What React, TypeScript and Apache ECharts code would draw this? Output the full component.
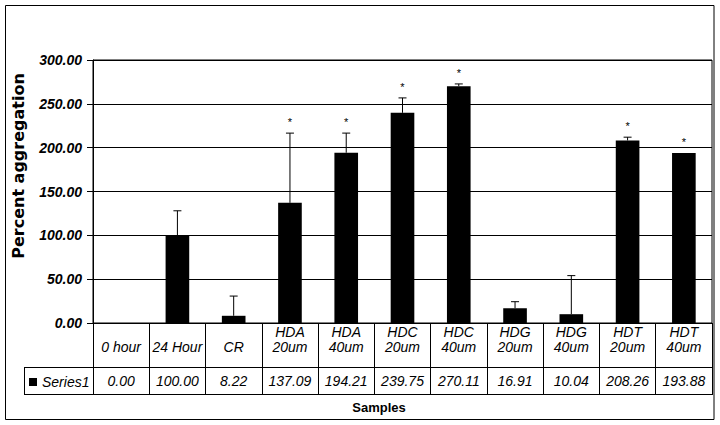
import React, { useEffect, useRef } from "react";
import * as echarts from "echarts";

const categories = [
  "0 hour",
  "24 Hour",
  "CR",
  "HDA\n20um",
  "HDA\n40um",
  "HDC\n20um",
  "HDC\n40um",
  "HDG\n20um",
  "HDG\n40um",
  "HDT\n20um",
  "HDT\n40um",
];
const seriesName = "Series1";
const values = [0.0, 100.0, 8.22, 137.09, 194.21, 239.75, 270.11, 16.91, 10.04, 208.26, 193.88];
const errors = [0, 28, 22.5, 79.5, 22.4, 17, 2.6, 7.4, 44, 3.7, 0];
const significant = [false, false, false, true, true, true, true, false, false, true, true];
const yMin = 0;
const yMax = 300;
const yInterval = 50;
const xTitle = "Samples";
const yTitle = "Percent aggregation";

export default function App() {
  const ref = useRef<HTMLDivElement>(null);

  useEffect(() => {
    const chart = echarts.init(ref.current!, null, { renderer: "svg" });
    const font = "Liberation Sans, Arial, sans-serif";
    const L = 93;
    const R = 712;
    const T = 60;
    const B = 323;
    const row1 = 367;
    const row2 = 394;
    const legendX = 24;

    chart.setOption({
      animation: false,
      backgroundColor: "#ffffff",
      grid: {
        left: L,
        right: 720 - R,
        top: T,
        bottom: 425 - B,
        show: true,
        borderColor: "#000",
        borderWidth: 1,
        backgroundColor: "transparent",
      },
      legend: {
        data: [seriesName],
        left: 29,
        top: 375,
        padding: 0,
        itemWidth: 8,
        itemHeight: 8,
        icon: "rect",
        itemStyle: { color: "#000" },
        textStyle: { fontFamily: font, fontStyle: "italic", fontSize: 14, color: "#000" },
      },
      xAxis: [
        {
          type: "category",
          data: categories,
          position: "bottom",
          axisLine: { show: true, lineStyle: { color: "#000", width: 1 } },
          axisTick: { show: true, length: row2 - B, interval: 0, lineStyle: { color: "#000", width: 1 } },
          axisLabel: {
            interval: 0,
            margin: 2,
            fontFamily: font,
            fontStyle: "italic",
            fontSize: 14,
            lineHeight: 14.5,
            color: "#000",
            formatter: (v: string) => (v.includes("\n") ? v : "\n" + v),
          },
          splitLine: { show: false },
        },
        {
          type: "category",
          data: values.map((v) => v.toFixed(2)),
          position: "bottom",
          axisLine: { show: false },
          axisTick: { show: false },
          axisLabel: {
            interval: 0,
            margin: 51,
            fontFamily: font,
            fontStyle: "italic",
            fontSize: 14,
            lineHeight: 14,
            color: "#000",
          },
          splitLine: { show: false },
        },
      ],
      yAxis: {
        type: "value",
        min: yMin,
        max: yMax,
        interval: yInterval,
        axisLine: { show: true, lineStyle: { color: "#000", width: 1 } },
        axisTick: { show: true, length: 6, lineStyle: { color: "#000", width: 1 } },
        axisLabel: {
          formatter: (v: number) => v.toFixed(2),
          fontFamily: font,
          fontWeight: "bold",
          fontStyle: "italic",
          fontSize: 14,
          color: "#000",
          margin: 11,
        },
        splitLine: { show: true, lineStyle: { color: "#000", width: 1 } },
      },
      series: [
        {
          type: "bar",
          name: seriesName,
          data: values,
          xAxisIndex: 0,
          barWidth: "42%",
          itemStyle: { color: "#000" },
        },
        {
          type: "custom",
          name: "error",
          xAxisIndex: 0,
          z: 5,
          data: values.map((v, i) => [i, v, errors[i], significant[i] ? 1 : 0]),
          encode: { x: 0, y: 1 },
          renderItem: (params: any, api: any) => {
            const i = api.value(0);
            const v = api.value(1);
            const e = api.value(2);
            const s = api.value(3);
            const base = api.coord([i, v]);
            const top = api.coord([i, v + e]);
            const children: any[] = [];
            if (e > 0) {
              children.push({
                type: "line",
                shape: { x1: base[0], y1: base[1], x2: top[0], y2: top[1] },
                style: { stroke: "#000", lineWidth: 1 },
              });
              children.push({
                type: "line",
                shape: { x1: top[0] - 4, y1: top[1], x2: top[0] + 4, y2: top[1] },
                style: { stroke: "#000", lineWidth: 1 },
              });
            }
            if (s) {
              children.push({
                type: "text",
                style: {
                  text: "*",
                  x: top[0],
                  y: top[1] - 11,
                  fill: "#000",
                  fontSize: 11,
                  fontFamily: font,
                  align: "center",
                  verticalAlign: "middle",
                },
              });
            }
            return { type: "group", children };
          },
        },
      ],
      graphic: [
        {
          type: "rect",
          silent: true,
          shape: { x: 5.5, y: 5.5, width: 708.5, height: 414 },
          style: { fill: "none", stroke: "#000", lineWidth: 1 },
        },
        {
          type: "line",
          silent: true,
          shape: { x1: legendX, y1: row1 + 0.5, x2: R, y2: row1 + 0.5 },
          style: { stroke: "#000", lineWidth: 1 },
        },
        {
          type: "line",
          silent: true,
          shape: { x1: legendX, y1: row2 + 0.5, x2: R + 1, y2: row2 + 0.5 },
          style: { stroke: "#000", lineWidth: 1 },
        },
        {
          type: "line",
          silent: true,
          shape: { x1: legendX + 0.5, y1: row1, x2: legendX + 0.5, y2: row2 + 1 },
          style: { stroke: "#000", lineWidth: 1 },
        },
        {
          type: "text",
          silent: true,
          style: {
            text: xTitle,
            x: 379,
            y: 407,
            fill: "#000",
            fontSize: 13,
            fontWeight: "bold",
            fontFamily: font,
            align: "center",
            verticalAlign: "middle",
          },
        },
        {
          type: "text",
          silent: true,
          x: 18,
          y: 166,
          rotation: Math.PI / 2,
          style: {
            text: yTitle,
            x: 0,
            y: 0,
            fill: "#000",
            fontSize: 16,
            fontWeight: "bold",
            fontFamily: "DejaVu Sans, sans-serif",
            align: "center",
            verticalAlign: "middle",
          },
        },
      ],
    });

    return () => {
      chart.dispose();
    };
  }, []);

  return (
    <div
      ref={ref}
      style={{ position: "absolute", left: 0, top: 0, width: 720, height: 425 }}
    />
  );
}
